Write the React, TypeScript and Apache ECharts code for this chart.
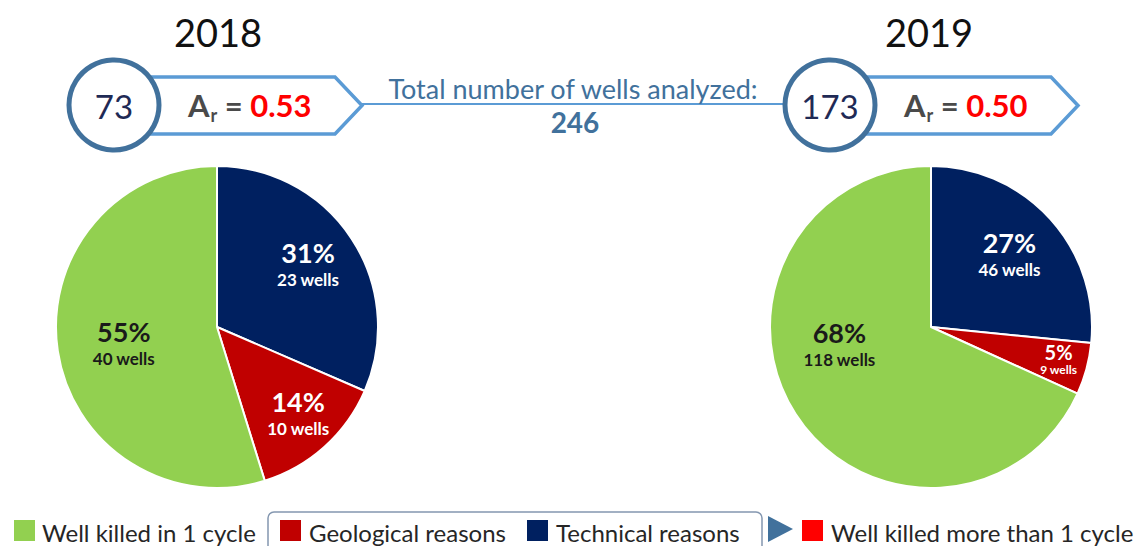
import React, { useEffect, useRef } from "react";
import * as echarts from "echarts";

const years = ["2018", "2019"];
const categories = ["Technical reasons", "Geological reasons", "Well killed in 1 cycle"];
const wells2018 = [23, 10, 40];
const wells2019 = [46, 9, 118];
const pct2018 = [31, 14, 55];
const pct2019 = [27, 5, 68];
const arValues = ["0.53", "0.50"];
const legendLabels = ["Well killed in 1 cycle", "Geological reasons", "Technical reasons", "Well killed more than 1 cycle"];
const totalTitle = "Total number of wells analyzed:";

const sliceColors = ["#002060", "#C00000", "#92D050"];
const labelColors = ["#ffffff", "#ffffff", "#1a1a1a"];
const FONT = "Lato, 'Open Sans', sans-serif";

export default function App() {
  const ref = useRef<HTMLDivElement>(null);
  useEffect(() => {
    if (!ref.current) return;
    const chart = echarts.init(ref.current, undefined, { renderer: "svg" });
    const R = 161;
    const pieCenters = [[217, 327], [931, 327]];
    const allWells = [wells2018, wells2019];
    const allPct = [pct2018, pct2019];
    // label offsets (style nudges) per pie/slice
    const labelOffsets = [
      [[-3, -2], [6, 2], [18, -1]],
      [[-5, 2], [19, 3], [3, -44]],
    ];
    const small = [[false, false, false], [false, true, false]];

    const series: any[] = [];
    allWells.forEach((w, pi) => {
      series.push({
        type: "pie",
        center: pieCenters[pi],
        radius: [0, R],
        startAngle: 90,
        clockwise: true,
        silent: true,
        label: { show: false },
        labelLine: { show: false },
        itemStyle: { borderColor: "#ffffff", borderWidth: 2 },
        data: w.map((v, i) => ({ name: categories[i], value: v, itemStyle: { color: sliceColors[i] } })),
        z: 2,
      });
      series.push({
        type: "pie",
        center: pieCenters[pi],
        radius: [58, R],
        startAngle: 90,
        clockwise: true,
        silent: true,
        labelLine: { show: false },
        labelLayout: { hideOverlap: false },
        itemStyle: { color: "rgba(0,0,0,0)", borderWidth: 0 },
        data: w.map((v, i) => ({
          name: categories[i],
          value: v,
          label: {
            show: true,
            position: "inside",
            offset: labelOffsets[pi][i],
            formatter: `{p|${allPct[pi][i]}%}\n{w|${v} wells}`,
            rich: small[pi][i]
              ? {
                  p: { fontSize: 20, fontWeight: "bold", color: labelColors[i], fontFamily: FONT, lineHeight: 21 },
                  w: { fontSize: 12, fontWeight: "bold", color: labelColors[i], fontFamily: FONT, lineHeight: 14 },
                }
              : {
                  p: { fontSize: 27, fontWeight: "bold", color: labelColors[i], fontFamily: FONT, lineHeight: 32 },
                  w: { fontSize: 17, fontWeight: "bold", color: labelColors[i], fontFamily: FONT, lineHeight: 22 },
                },
          },
        })),
        z: 3,
      });
    });

    const headerCx = [114, 830];
    const cy = 105;
    const totals = allWells.map((w) => w.reduce((a, b) => a + b, 0));
    const grandTotal = totals.reduce((a, b) => a + b, 0);
    const yearCx = [218, 929];

    const graphics: any[] = [];
    // connector line
    graphics.push({
      type: "line",
      shape: { x1: headerCx[0] + 248, y1: 104, x2: headerCx[1] - 46, y2: 104 },
      style: { stroke: "#5B9BD5", lineWidth: 2 },
      z: 1,
    });
    headerCx.forEach((cx, i) => {
      graphics.push({
        type: "text",
        style: {
          text: years[i], x: yearCx[i], y: 32, fill: "#111111",
          fontSize: 38, fontFamily: FONT, textAlign: "center", textVerticalAlign: "middle", verticalAlign: "middle",
        },
        z: 5,
      });
      const tip = cx + 248;
      graphics.push({
        type: "polygon",
        shape: { points: [[cx + 30, 77], [tip - 27, 77], [tip, 105.5], [tip - 27, 134], [cx + 30, 134]] },
        style: { fill: "#ffffff", stroke: "#5B9BD5", lineWidth: 3.5 },
        z: 2,
      });
      graphics.push({
        type: "circle",
        shape: { cx, cy, r: 45 },
        style: { fill: "#ffffff", stroke: "#41719C", lineWidth: 5 },
        z: 3,
      });
      graphics.push({
        type: "text",
        style: {
          text: String(totals[i]), x: cx, y: cy + 1, fill: "#1F2A55",
          fontSize: 33, fontFamily: FONT, textAlign: "center", textVerticalAlign: "middle", verticalAlign: "middle",
        },
        z: 5,
      });
      graphics.push({
        type: "text",
        style: {
          text: `{a|A}{s|r}{e| = }{v|${arValues[i]}}`,
          x: cx + 74, y: cy, textAlign: "left", textVerticalAlign: "middle", verticalAlign: "middle",
          rich: {
            a: { fontSize: 31, fontWeight: "bold", fill: "#4a4a4a", color: "#4a4a4a", fontFamily: FONT },
            s: { fontSize: 18, fontWeight: "bold", fill: "#4a4a4a", color: "#4a4a4a", fontFamily: FONT, padding: [20, 0, 0, 1] },
            e: { fontSize: 31, fontWeight: "bold", fill: "#4a4a4a", color: "#4a4a4a", fontFamily: FONT },
            v: { fontSize: 31, fontWeight: "bold", fill: "#FF0000", color: "#FF0000", fontFamily: FONT },
          },
        },
        z: 5,
      });
    });
    graphics.push({
      type: "text",
      style: {
        text: totalTitle, x: 573, y: 88, fill: "#41719C",
        fontSize: 27, fontFamily: FONT, textAlign: "center", textVerticalAlign: "middle", verticalAlign: "middle",
      },
      z: 5,
    });
    graphics.push({
      type: "text",
      style: {
        text: String(grandTotal), x: 575, y: 122, fill: "#41719C",
        fontSize: 28, fontWeight: "bold", fontFamily: FONT, textAlign: "center", textVerticalAlign: "middle", verticalAlign: "middle",
      },
      z: 5,
    });

    // legend
    const ly = 531;
    const legendSquares = [
      { x: 14, color: sliceColors[2], tx: 42, label: legendLabels[0] },
      { x: 280, color: sliceColors[1], tx: 309, label: legendLabels[1] },
      { x: 527, color: sliceColors[0], tx: 556, label: legendLabels[2] },
      { x: 802, color: "#FF0000", tx: 831, label: legendLabels[3] },
    ];
    graphics.push({
      type: "rect",
      shape: { x: 268, y: 512, width: 494, height: 50, r: 6 },
      style: { fill: "#ffffff", stroke: "#8497B0", lineWidth: 1.5 },
      z: 1,
    });
    graphics.push({
      type: "polygon",
      shape: { points: [[768, 516], [793, 529], [768, 542]] },
      style: { fill: "#41719C" },
      z: 2,
    });
    legendSquares.forEach((s) => {
      graphics.push({
        type: "rect",
        shape: { x: s.x, y: ly - 11, width: 21, height: 21 },
        style: { fill: s.color },
        z: 2,
      });
      graphics.push({
        type: "text",
        style: {
          text: s.label, x: s.tx, y: ly + 1, fill: "#262626",
          fontSize: 24, fontFamily: FONT, textAlign: "left", textVerticalAlign: "middle", verticalAlign: "middle",
        },
        z: 2,
      });
    });

    chart.setOption({
      animation: false,
      backgroundColor: "#ffffff",
      series,
      graphic: { elements: graphics },
    });
    return () => chart.dispose();
  }, []);
  return (
    <div
      ref={ref}
      style={{ position: "fixed", left: 0, top: 0, width: 1146, height: 546 }}
    />
  );
}
